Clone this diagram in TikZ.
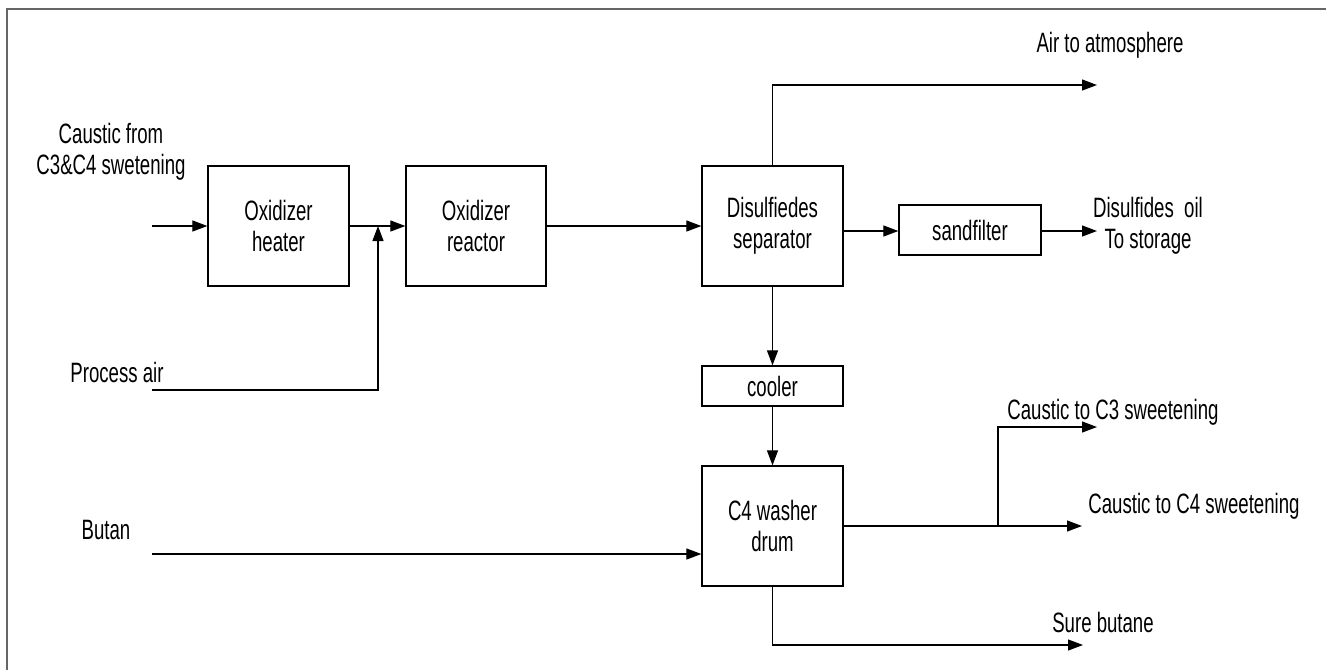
\documentclass[tikz,border=0pt]{standalone}
\usepackage{fontspec}
\setmainfont[FakeStretch=0.665]{Liberation Sans}
\usetikzlibrary{arrows.meta}
\begin{document}
\begin{tikzpicture}[x=1pt,y=-1pt,
  every node/.style={font=\fontsize{28}{31}\selectfont, inner sep=0pt},
  unit/.style={draw, line width=1.3pt, align=center},
  bigunit/.style={unit, minimum width=141pt, minimum height=120pt},
  flat/.style={unit, minimum width=141pt},
  lbl/.style={align=center},
  flow/.style={line width=1.2pt, -{Triangle[length=15pt,width=11pt]}},
  pipe/.style={line width=1.2pt}]
\useasboundingbox (0,0) rectangle (1326,670);
\draw[gray!80!black, line width=1.3pt] (7,670) -- (7,9) -- (1326,9);

\node[bigunit] (heater) at (278.5,226) {Oxidizer\\heater};
\node[bigunit, minimum width=140pt] (reactor) at (476,226) {Oxidizer\\reactor};
\node[bigunit] (sep) at (772.5,226) {Disulfiedes\\separator};
\node[flat, minimum width=142pt, minimum height=50pt] (sand) at (970,230) {sandfilter};
\node[flat, minimum height=40pt] (cooler) at (772.5,386) {cooler};
\node[bigunit] (drum) at (772.5,526) {C4 washer\\drum};

\node[lbl] (tcaus) at (111,152) {Caustic from\\C3\&C4 swetening};
\node[lbl] (tair) at (117,372) {Process air};
\node[lbl] (tbut) at (106,530) {Butan};
\node[lbl] (tatm) at (1110,45) {Air to atmosphere};
\node[lbl] (toil) at (1148,226) {Disulfides~ oil\\To storage};
\node[lbl] (tc3) at (1113,412) {Caustic to C3 sweetening};
\node[lbl] (tc4) at (1194,506) {Caustic to C4 sweetening};
\node[lbl] (tsure) at (1103,622) {Sure butane};

\coordinate (causin) at (152,226);
\coordinate (airin) at (152,390);
\coordinate (airjoin) at (378,226);
\coordinate (butin) at (152,554);
\coordinate (atmend) at (1097,85);
\coordinate (oilend) at (1097,231);
\coordinate (split) at (998,526);
\coordinate (c3end) at (1097,427);
\coordinate (c4end) at (1082,526);
\coordinate (sureend) at (1083,645);

\draw[flow] (causin) -- (heater.west);
\draw[flow] (heater.east) -- (reactor.west);
\draw[flow] (airin) -| (airjoin);
\draw[flow] (reactor.east) -- (sep.west);
\draw[flow] (sep.east |- oilend) -- (sand.west |- oilend);
\draw[flow] (sand.east |- oilend) -- (oilend);
\draw[flow] (sep.north) |- (atmend);
\draw[flow] (sep.south) -- (cooler.north);
\draw[flow] (cooler.south) -- (drum.north);
\draw[flow] (butin) -- (drum.west |- butin);
\draw[flow] (drum.east) -- (c4end);
\draw[flow] (split) |- (c3end);
\draw[flow] (drum.south) |- (sureend);
\end{tikzpicture}
\end{document}
